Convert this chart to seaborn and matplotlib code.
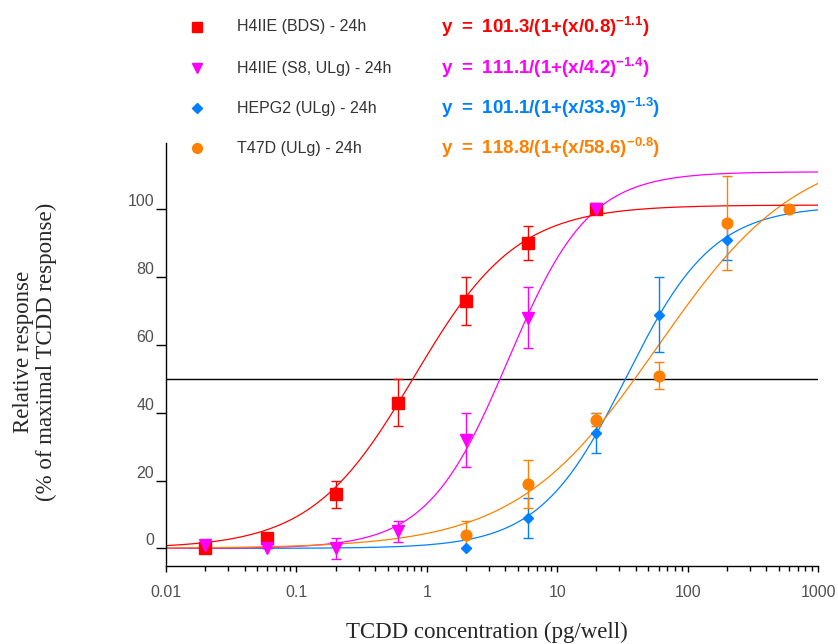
import numpy as np
import pandas as pd
import seaborn as sns
import matplotlib
matplotlib.use("Agg")
import matplotlib.pyplot as plt
from matplotlib.lines import Line2D

# series names, colours and markers
names = ["H4IIE (BDS) - 24h", "H4IIE (S8, ULg) - 24h", "HEPG2 (ULg) - 24h", "T47D (ULg) - 24h"]
colors = ["#FF0000", "#FF00FF", "#0080FF", "#FF8000"]
markers = ["s", "v", "D", "o"]

# fitted parameters shown in the equations: y = top/(1+(x/ec50)^-hill)
tops = [101.3, 111.1, 101.1, 118.8]
ec50s = [0.8, 4.2, 33.9, 58.6]
hills = [1.1, 1.4, 1.3, 0.8]
eq_labels = ["y = 101.3/(1+(x/0.8)", "y = 111.1/(1+(x/4.2)", "y = 101.1/(1+(x/33.9)", "y = 118.8/(1+(x/58.6)"]
eq_exps = ["-1.1", "-1.4", "-1.3", "-0.8"]

# measured points (pg/well, % response, error)
red_x = [0.02, 0.06, 0.2, 0.6, 2, 6, 20]
red_y = [0, 3, 16, 43, 73, 90, 100]
red_err = [0, 0, 4, 7, 7, 5, 0]
mag_x = [0.02, 0.06, 0.2, 0.6, 2, 6, 20]
mag_y = [1, 0, 0, 5, 32, 68, 100]
mag_err = [0, 0, 3, 3, 8, 9, 0]
blue_x = [2, 6, 20, 60, 200, 600]
blue_y = [0, 9, 34, 69, 91, 100]
blue_err = [0, 6, 6, 11, 6, 0]
orange_x = [2, 6, 20, 60, 200, 600]
orange_y = [4, 19, 38, 51, 96, 100]
orange_err = [4, 7, 2, 4, 14, 0]

pts_x = [red_x, mag_x, blue_x, orange_x]
pts_y = [red_y, mag_y, blue_y, orange_y]
pts_err = [red_err, mag_err, blue_err, orange_err]

sns.set_style("ticks")
plt.rcParams["font.family"] = ["Liberation Sans", "DejaVu Sans"]
plt.rcParams["mathtext.fontset"] = "custom"
plt.rcParams["mathtext.rm"] = "Liberation Sans"
plt.rcParams["mathtext.bf"] = "Liberation Sans:bold"

fig = plt.figure(figsize=(8.38, 6.44), dpi=100)
ax = fig.add_axes([166 / 838, 78 / 644, 652 / 838, 423 / 644])
ax.set_xscale("log")

# fitted curves
xs = np.logspace(-2, 3, 400)
curves = []
for n, t, e, h in zip(names, tops, ec50s, hills):
    curves.append(pd.DataFrame({"x": xs, "y": t / (1 + (xs / e) ** (-h)), "series": n}))
curves = pd.concat(curves)
order = [2, 1, 3, 0]
for i in order:
    sns.lineplot(data=curves[curves["series"] == names[i]], x="x", y="y", color=colors[i],
                 lw=0.9, ax=ax, legend=False, zorder=2)

ax.axhline(50, color="black", lw=1, zorder=1)

msizes = [8.4, 8.6, 5.4, 7.7]
for i in [0, 1, 2, 3]:
    ax.errorbar(pts_x[i], pts_y[i], yerr=pts_err[i], fmt="none", ecolor=colors[i],
                elinewidth=1, capsize=3.5, capthick=1, zorder=3)
    ax.plot(pts_x[i], pts_y[i], ls="none", marker=markers[i], ms=msizes[i],
            color=colors[i], mec=colors[i], zorder=4)

ax.set_xlim(0.01, 1000)
ax.set_ylim(-5.2, 119.6)
ax.set_yticks([0, 20, 40, 60, 80, 100])
ax.set_xticks([0.01, 0.1, 1, 10, 100, 1000])
ax.set_xticklabels(["0.01", "0.1", "1", "10", "100", "1000"])
ax.set_xlabel("")
ax.set_ylabel("")
sns.despine(ax=ax)
for s in ["left", "bottom"]:
    ax.spines[s].set_color("black")
    ax.spines[s].set_linewidth(1)
ax.tick_params(axis="y", length=7.5, width=1, pad=1, labelsize=11.5, labelcolor="#505050", color="black")
ax.tick_params(axis="x", which="major", length=4.5, width=1, pad=9, labelsize=11.5, labelcolor="#505050", color="black")
ax.tick_params(axis="x", which="minor", length=3.5, width=1, color="black")
for lab in ax.get_yticklabels():
    lab.set_va("bottom")

fig.text(487 / 838, 1 - 632 / 644, "TCDD concentration (pg/well)", family="Liberation Serif",
         fontsize=16.5, ha="center", va="center")
fig.text(35 / 838, 1 - 352 / 644, "Relative response\n(% of maximal TCDD response)",
         family="Liberation Serif", fontsize=16.5, rotation=90, ha="center", va="center",
         multialignment="center", linespacing=1.15)

# legend block at the top
rows_y = [27, 68, 108, 148]
for i in range(4):
    yy = 1 - rows_y[i] / 644
    fig.add_artist(Line2D([197 / 838], [yy], marker=markers[i], ms=[7.5, 6.5, 5, 7][i],
                          color=colors[i], ls="none", transform=fig.transFigure))
    fig.text(237 / 838, yy, names[i], fontsize=11.5, color="#333333", ha="left", va="center")
    body = eq_labels[i].replace(" ", r"\ ").replace("+", "{+}")
    eq = r"$\mathbf{" + body + r"}^{\mathbf{" + eq_exps[i] + r"}}\mathbf{)}$"
    fig.text(441 / 838, yy, eq, fontsize=13.5, color=colors[i], ha="left", va="center")

fig.savefig("out.png", dpi=100, facecolor="white")
